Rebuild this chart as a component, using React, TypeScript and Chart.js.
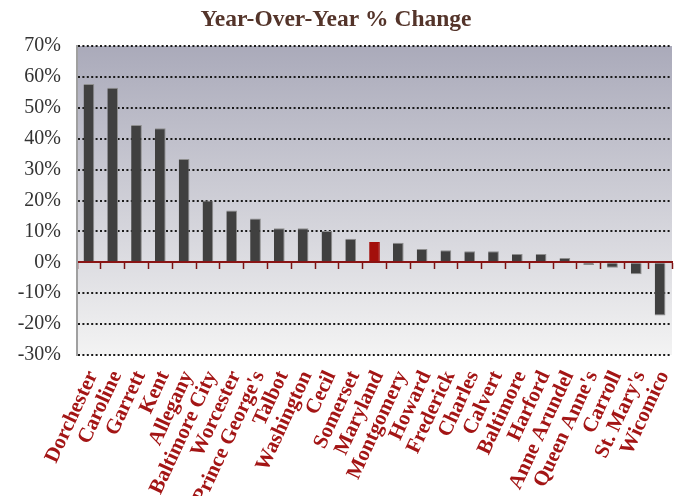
import React, { useEffect, useRef } from "react";
import { Chart, registerables } from "chart.js";

Chart.register(...registerables);

const categories: string[] = [
  "Dorchester", "Caroline", "Garrett", "Kent", "Allegany", "Baltimore City",
  "Worcester", "Prince George's", "Talbot", "Washington", "Cecil", "Somerset",
  "Maryland", "Montgomery", "Howard", "Frederick", "Charles", "Calvert",
  "Baltimore", "Harford", "Anne Arundel", "Queen Anne's", "Carroll",
  "St. Mary's", "Wicomico",
];

const changePct: number[] = [
  57.7, 56.5, 44.4, 43.4, 33.4, 20.0, 16.8, 14.2, 11.0, 11.0, 10.1, 7.6,
  6.6, 6.3, 4.3, 3.9, 3.6, 3.6, 2.7, 2.7, 1.4, -0.9, -1.8, -3.9, -17.2,
];

const highlighted: string = "Maryland";

const yMin = -30;
const yMax = 70;
const yStep = 10;

const titleText = "Year-Over-Year % Change";

const bgPlugin = {
  id: "plotBg",
  beforeDraw(chart: any) {
    const { ctx, chartArea } = chart;
    if (!chartArea) return;
    const g = ctx.createLinearGradient(0, chartArea.top, 0, chartArea.bottom);
    g.addColorStop(0, "#AAAABA");
    g.addColorStop(1, "#F3F3F3");
    ctx.save();
    ctx.fillStyle = g;
    ctx.fillRect(chartArea.left, chartArea.top, chartArea.right - chartArea.left, chartArea.bottom - chartArea.top);
    ctx.restore();
  },
};

export default function App() {
  const ref = useRef<HTMLCanvasElement | null>(null);

  useEffect(() => {
    if (!ref.current) return;
    const chart = new Chart(ref.current, {
      type: "bar",
      data: {
        labels: categories,
        datasets: [
          {
            data: changePct,
            backgroundColor: categories.map((c) => (c === highlighted ? "#A30F0B" : "#404040")),
            borderColor: categories.map((c) => (c === highlighted ? "#A30F0B" : "#8E8E8E")),
            borderWidth: { top: 1, right: 1, bottom: 1, left: 0 },
            borderSkipped: "start",
            barPercentage: 0.45,
            categoryPercentage: 1,
          },
        ],
      },
      options: {
        animation: false,
        responsive: true,
        maintainAspectRatio: false,
        layout: { padding: { left: 0, right: 9, top: 0, bottom: 0 } },
        plugins: {
          legend: { display: false },
          tooltip: { enabled: false },
          title: {
            display: true,
            text: titleText,
            color: "#54342A",
            font: { family: "'Liberation Serif', serif", size: 23.5, weight: "bold", lineHeight: 1.2 },
            padding: { top: 6, bottom: 11.8 },
          },
        },
        scales: {
          x: {
            type: "category",
            position: "bottom",
            grid: { display: false, drawTicks: false },
            border: { display: false },
            ticks: {
              autoSkip: false,
              minRotation: 65,
              maxRotation: 65,
              padding: 12,
              labelOffset: 4,
              color: "#A31515",
              font: { family: "'Liberation Serif', serif", size: 21, weight: "bold" },
            },
            afterFit(scale: any) {
              scale.height = 141;
              scale.paddingLeft = 0;
              scale.paddingRight = 0;
            },
          },
          x2: {
            type: "category",
            position: { y: 0 } as any,
            offset: true,
            z: 1,
            grid: {
              offset: true,
              drawOnChartArea: false,
              drawTicks: true,
              tickLength: 6,
              tickColor: "#7A1212",
              tickWidth: 1.5,
              color: "#7A1212",
            },
            border: { display: true, color: "#8A1414", width: 2 },
            ticks: { display: false },
            afterFit(scale: any) {
              scale.paddingLeft = 0;
              scale.paddingRight = 0;
            },
          },
          y: {
            min: yMin,
            max: yMax,
            ticks: {
              stepSize: yStep,
              padding: 16,
              color: "#333333",
              font: { family: "'Liberation Serif', serif", size: 20 },
              callback: (v: any) => `${v}%`,
            },
            grid: {
              drawTicks: false,
              color: (ctx: any) => (ctx.tick && ctx.tick.value === 0 ? "rgba(0,0,0,0)" : "#1A1A1A"),
              lineWidth: 2,
            },
            border: { display: true, color: "#A0A0A0", width: 2, dash: [2, 2.4] },
            afterFit(scale: any) {
              scale.width = 77;
            },
          },
        },
      },
      plugins: [bgPlugin],
    });
    return () => chart.destroy();
  }, []);

  return (
    <div style={{ position: "absolute", left: 0, top: 0, width: 681, height: 496 }}>
      <canvas ref={ref} />
    </div>
  );
}
